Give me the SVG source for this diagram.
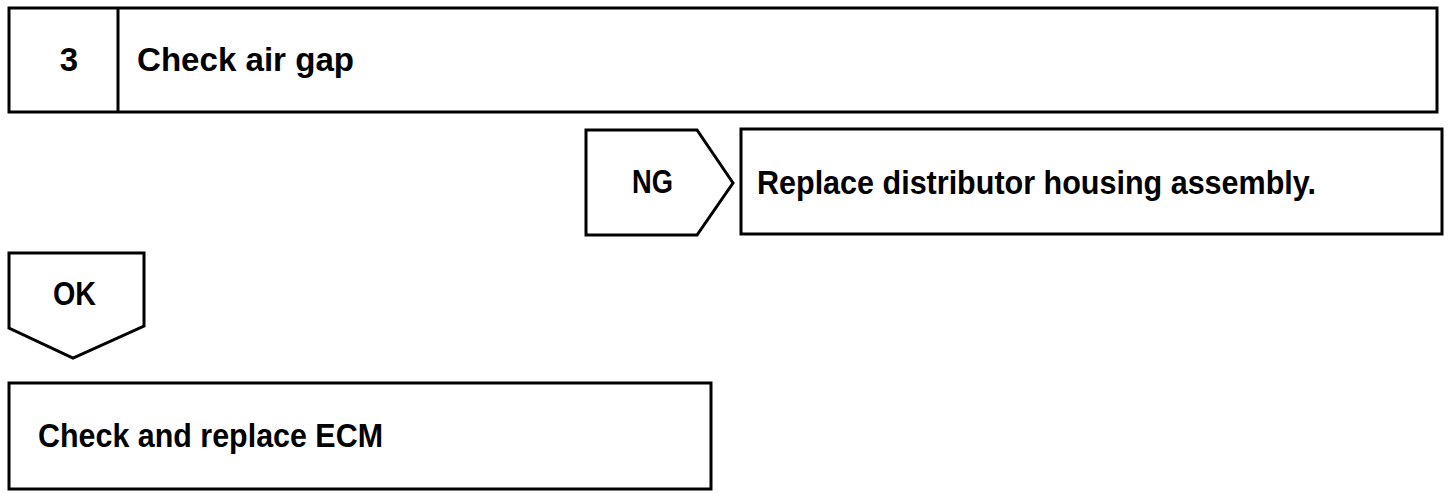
<svg xmlns="http://www.w3.org/2000/svg" width="1456" height="496" viewBox="0 0 1456 496">
<style>
.box{fill:#fff;stroke:#000;stroke-width:3;stroke-linejoin:miter}
.t{font-family:"Liberation Sans",Arial,sans-serif;font-weight:bold;font-size:33px;fill:#000}
</style>
<rect width="1456" height="496" fill="#fff"/>
<g id="step3">
<rect class="box" x="9" y="8" width="1428" height="104"/>
<line class="box" x1="118" y1="8" x2="118" y2="112"/>
<text class="t" x="69" y="71" text-anchor="middle">3</text>
<text class="t" x="137" y="71" textLength="217" lengthAdjust="spacingAndGlyphs">Check air gap</text>
</g>
<g id="ng">
<polygon class="box" points="586,130 697,130 733,183 697,235 586,235"/>
<text class="t" x="632" y="193" textLength="41" lengthAdjust="spacingAndGlyphs">NG</text>
</g>
<g id="replace">
<rect class="box" x="741" y="129" width="701" height="105"/>
<text class="t" x="757" y="194" textLength="559" lengthAdjust="spacingAndGlyphs">Replace distributor housing assembly.</text>
</g>
<g id="ok">
<polygon class="box" points="9,253 144,253 144,326 73,358 9,328"/>
<text class="t" x="53" y="305" textLength="43" lengthAdjust="spacingAndGlyphs">OK</text>
</g>
<g id="ecm">
<rect class="box" x="9" y="383" width="702" height="106"/>
<text class="t" x="38" y="447" textLength="345" lengthAdjust="spacingAndGlyphs">Check and replace ECM</text>
</g>
<g id="connectors"></g>
</svg>
